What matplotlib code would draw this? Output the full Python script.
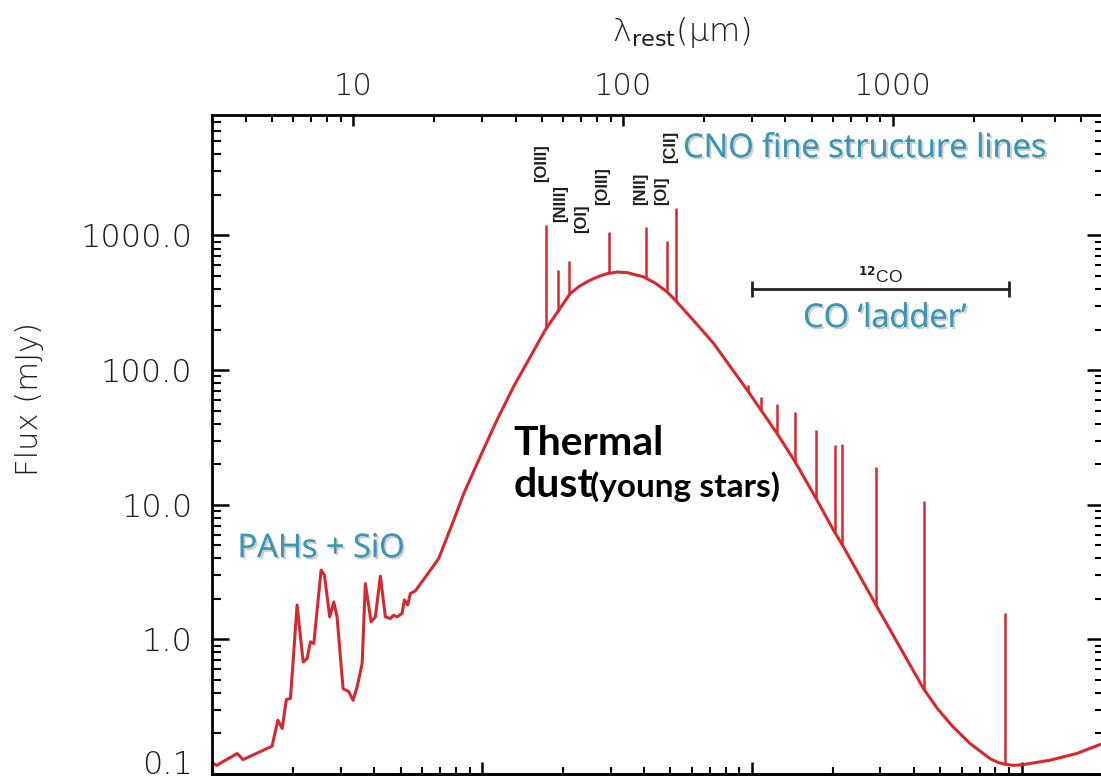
import numpy as np
import matplotlib
matplotlib.use('Agg')
import matplotlib.pyplot as plt
import matplotlib.patheffects as pe
from matplotlib.ticker import FuncFormatter, NullFormatter

# rest-frame SED continuum: wavelength (micron) and flux (mJy)
wave = [3.00, 3.12, 3.72, 3.91, 5.01, 5.26, 5.46, 5.66, 5.86, 6.20, 6.53, 6.75,
        6.95, 7.15, 7.61, 7.83, 8.19, 8.48, 8.72, 9.18, 9.63, 10.0, 10.35, 10.8,
        11.1, 11.66, 12.09, 12.62, 13.17, 13.74, 14.14, 14.55, 15.19, 15.49, 15.93,
        16.30, 17.01, 20.75, 23.6, 25.7, 29.2, 34.1, 39.3, 45.4, 51.5, 58.6, 63.8,
        69.0, 75.0, 81.0, 87.3, 95.0, 103.5, 119.2, 131.7, 145.5, 156.2, 177.5,
        193.4, 216.6, 288.8, 371.8, 434.6, 515.4, 602.6, 656.2, 867, 1298, 1459,
        1664, 1933, 2293, 2450, 2606, 2800, 3004, 3824, 4803, 6060]
flux = [0.121, 0.116, 0.142, 0.128, 0.161, 0.251, 0.218, 0.358, 0.364, 1.80, 0.68, 0.72,
        0.96, 0.93, 3.27, 3.00, 1.47, 1.90, 1.47, 0.43, 0.41, 0.353, 0.444, 0.66,
        2.60, 1.35, 1.47, 2.95, 1.47, 1.43, 1.51, 1.47, 1.56, 1.96, 1.80,
        2.19, 2.29, 3.98, 7.69, 12.1, 21.5, 42.5, 75.2, 126, 198, 290, 371,
        420, 462, 495, 520, 535, 530, 493, 443, 382, 331, 249,
        205, 158, 71, 34, 20.8, 11.45, 6.48, 4.87, 1.795, 0.432, 0.308,
        0.226, 0.1685, 0.130, 0.122, 0.118, 0.116, 0.117, 0.1266, 0.142, 0.17]

# CNO fine structure lines
fs_names = ['[OIII]', '[NIII]', '[OI]', '[OIII]', '[NII]', '[OI]', '[CII]']
fs_wave = [51.8, 57.3, 63.2, 88.4, 121.9, 145.5, 157.7]
fs_peak = [1194, 553, 649, 1064, 1148, 914, 1589]
fs_label_x = [50.1, 58.6, 70.5, 84.3, 115.9, 139.5, 149.7]
fs_label_y = [2493, 1258, 1042, 1682, 1682, 1682, 3451]

# 12CO ladder (plus [CI] 609 um)
co_wave = [290, 325, 372, 434, 520, 609, 650, 867, 1300, 2600]
co_peak = [77.4, 62.7, 55.6, 49.0, 35.8, 27.7, 28.1, 19.1, 10.6, 1.56]
co_range = [300, 2700]
co_bar_flux = 400

red = '#d7282f'
teal = '#3a97b4'
ink = '#1e1e1e'
shadow = [pe.withSimplePatchShadow(offset=(1.5, -1.5), shadow_rgbFace='0.45', alpha=0.35),
          pe.Normal()]


def continuum_at(w):
    lw = np.log10(np.asarray(w, dtype=float))
    return 10 ** np.interp(lw, np.log10(wave), np.log10(flux))


fig = plt.figure(figsize=(11.01, 7.79), dpi=100)
ax = fig.add_axes([212 / 1101, 5 / 779, 892 / 1101, 659 / 779])
ax.set_xscale('log')
ax.set_yscale('log')
ax.set_xlim(3, 6060)
ax.set_ylim(0.1, 7850)

ax.plot(wave, flux, color=red, lw=2.2, solid_joinstyle='round')
ax.vlines(fs_wave, continuum_at(fs_wave), fs_peak, color=red, lw=1.8)
ax.vlines(co_wave, continuum_at(co_wave), co_peak, color=red, lw=1.8)

for name, x, y in zip(fs_names, fs_label_x, fs_label_y):
    ax.text(x, y, name, rotation=90, ha='center', va='bottom', fontsize=12,
            fontweight='bold', family='Liberation Sans', color=ink)

# CO bar with end caps
ax.plot(co_range, [co_bar_flux, co_bar_flux], color='#222222', lw=2,
        marker='|', markersize=12, markeredgewidth=2)
ax.text(np.sqrt(co_range[0] * co_range[1]), 440, r'$^{\mathbf{12}}$CO', ha='center',
        va='baseline', fontsize=12.5, family='Liberation Sans', color=ink)

ax.text(167, 3823, 'CNO fine structure lines', color=teal, fontsize=23.5,
        family='Open Sans', va='baseline', path_effects=shadow)
ax.text(465, 209, 'CO \u2018ladder\u2019', color=teal, fontsize=23.5,
        family='Open Sans', va='baseline', path_effects=shadow)
ax.text(3.73, 4.08, 'PAHs + SiO', color=teal, fontsize=23.5,
        family='Open Sans', va='baseline', path_effects=shadow)

ax.text(39.2, 23.4, 'Thermal', fontsize=29.5, fontweight='bold', family='Lato',
        va='baseline')
ax.text(39.4, 11.4, 'dust', fontsize=29.5, fontweight='bold', family='Lato',
        va='baseline')
ax.text(75.5, 11.4, '(young stars)', fontsize=24, fontweight='bold', family='Lato',
        va='baseline')

# top axis: rest wavelength
ax.xaxis.tick_top()
ax.tick_params(axis='x', which='major', direction='in', length=8, width=1.8,
               top=True, bottom=False, labeltop=True, labelbottom=False,
               pad=10, labelsize=22)
ax.tick_params(axis='x', which='minor', direction='in', length=5, width=1.5,
               top=True, bottom=False)
ax.xaxis.set_major_formatter(FuncFormatter(lambda v, p: f'{v:g}'))
ax.xaxis.set_minor_formatter(NullFormatter())

ax.tick_params(axis='y', which='major', direction='in', length=12, width=1.8,
               left=True, right=True, pad=14, labelsize=23)
ax.tick_params(axis='y', which='minor', direction='in', length=6.5, width=1.5,
               left=True, right=True)
ax.yaxis.set_major_formatter(FuncFormatter(lambda v, p: f'{v:.1f}'))
ax.yaxis.set_minor_formatter(NullFormatter())

# bottom axis: observed wavelength, ticks only
sec = ax.secondary_xaxis('bottom', functions=(lambda x: x * 10 / 3, lambda x: x * 0.3))
sec.tick_params(which='major', direction='in', length=9, width=1.8, labelbottom=False)
sec.tick_params(which='minor', direction='in', length=5, width=1.5)
sec.xaxis.set_major_formatter(NullFormatter())
sec.xaxis.set_minor_formatter(NullFormatter())
sec.spines['bottom'].set_linewidth(2)

for s in ax.spines.values():
    s.set_linewidth(2)

fig.canvas.draw()
for t in ax.xaxis.get_major_ticks() + ax.yaxis.get_major_ticks():
    t.label1.set_color(ink)
    t.label2.set_color(ink)
    t.label1.set_fontweight('light')
    t.label2.set_fontweight('light')
# keep the lowest label inside the figure
for t in ax.yaxis.get_major_ticks():
    if np.isclose(t.get_loc(), 0.1):
        t.label1.set_verticalalignment('baseline')

fig.text(681 / 1101, 1 - 33 / 779, 'λ$_{\\mathrm{rest}}$(μm)', ha='center',
         va='center', fontsize=23, color=ink, fontweight='light')
fig.text(30 / 1101, 1 - 399 / 779, 'Flux (mJy)', rotation=90, ha='center',
         va='center', fontsize=22, color=ink, fontweight='light')

fig.savefig('out.png', dpi=100)
